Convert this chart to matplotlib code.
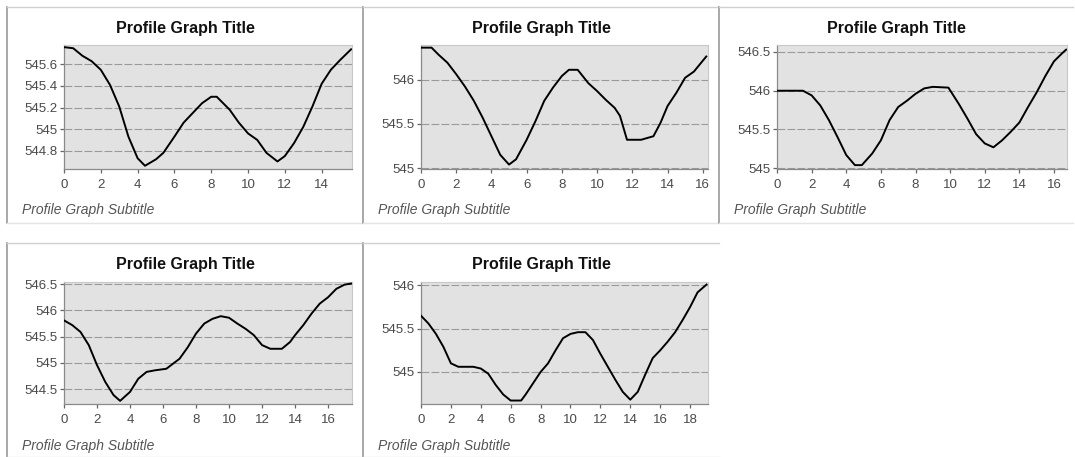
import matplotlib.pyplot as plt
from matplotlib.lines import Line2D

plt.rcParams['font.family'] = ['Liberation Sans', 'DejaVu Sans']

W, H = 1075, 457

# profile data (distance, elevation)
dist_1 = [0, 0.5, 1, 1.5, 2, 2.5, 3, 3.5, 4, 4.4, 5, 5.4, 6, 6.5, 7, 7.5, 8, 8.3,
          9, 9.5, 10, 10.5, 11, 11.6, 12, 12.5, 13, 13.5, 14, 14.5, 15, 15.6]
elev_1 = [545.76, 545.75, 545.68, 545.63, 545.55, 545.41, 545.21, 544.93, 544.73, 544.66,
          544.72, 544.78, 544.93, 545.06, 545.15, 545.24, 545.30, 545.30, 545.18, 545.06,
          544.96, 544.90, 544.78, 544.70, 544.75, 544.87, 545.02, 545.21, 545.42, 545.55,
          545.64, 545.74]

dist_2 = [0, 0.6, 1, 1.5, 2, 2.5, 3, 3.5, 4, 4.5, 5, 5.4, 6, 6.5, 7, 7.5, 8, 8.4, 8.9,
          9.5, 10, 10.5, 11, 11.3, 11.7, 12.5, 13.2, 13.6, 14, 14.5, 15, 15.5, 16.2]
elev_2 = [546.36, 546.36, 546.28, 546.19, 546.06, 545.92, 545.76, 545.57, 545.36, 545.15,
          545.04, 545.10, 545.32, 545.53, 545.76, 545.91, 546.04, 546.11, 546.11, 545.96,
          545.87, 545.77, 545.68, 545.59, 545.32, 545.32, 545.36, 545.51, 545.70, 545.85,
          546.02, 546.09, 546.26]

dist_3 = [0, 1.5, 2, 2.5, 3, 3.5, 4, 4.5, 4.9, 5.5, 6, 6.5, 7, 7.5, 8, 8.5, 9, 9.9,
          10.5, 11, 11.5, 12, 12.5, 13, 13.5, 14, 14.5, 15, 15.5, 16, 16.5, 16.7]
elev_3 = [546.0, 546.0, 545.94, 545.81, 545.62, 545.40, 545.17, 545.04, 545.04, 545.19,
          545.36, 545.62, 545.79, 545.87, 545.96, 546.03, 546.05, 546.04, 545.83, 545.64,
          545.44, 545.32, 545.27, 545.36, 545.47, 545.59, 545.79, 545.98, 546.19, 546.38,
          546.49, 546.53]

dist_4 = [0, 0.5, 1, 1.5, 2, 2.5, 3, 3.4, 4, 4.5, 5, 5.5, 6.2, 7, 7.5, 8, 8.5, 9, 9.5,
          10, 10.5, 11, 11.5, 12, 12.5, 13.2, 13.7, 14, 14.5, 15, 15.5, 16, 16.5, 17, 17.4]
elev_4 = [545.81, 545.72, 545.59, 545.34, 544.96, 544.64, 544.39, 544.28, 544.45, 544.70,
          544.83, 544.86, 544.89, 545.08, 545.30, 545.56, 545.75, 545.84, 545.89, 545.86,
          545.75, 545.65, 545.53, 545.34, 545.27, 545.27, 545.40, 545.53, 545.72, 545.94,
          546.13, 546.25, 546.41, 546.49, 546.51]

dist_5 = [0, 0.5, 1, 1.5, 2, 2.5, 3.5, 4, 4.5, 5, 5.5, 6, 6.7, 7, 7.5, 8, 8.5, 9, 9.5,
          10, 10.5, 11, 11.5, 12, 12.5, 13, 13.5, 14, 14.5, 15, 15.5, 16, 16.5, 17, 17.5,
          18, 18.5, 19.1]
elev_5 = [545.65, 545.56, 545.44, 545.29, 545.10, 545.06, 545.06, 545.04, 544.98, 544.85,
          544.74, 544.67, 544.67, 544.74, 544.87, 545.00, 545.10, 545.25, 545.39, 545.44,
          545.46, 545.46, 545.37, 545.21, 545.06, 544.91, 544.77, 544.68, 544.77, 544.97,
          545.16, 545.25, 545.35, 545.46, 545.60, 545.75, 545.92, 546.01]

yticks_1 = [544.8, 545, 545.2, 545.4, 545.6]
yticks_2 = [545, 545.5, 546]
yticks_3 = [545, 545.5, 546, 546.5]
yticks_4 = [544.5, 545, 545.5, 546, 546.5]
yticks_5 = [545, 545.5, 546]

xticks_1 = list(range(0, 15, 2))
xticks_2 = list(range(0, 17, 2))
xticks_3 = list(range(0, 17, 2))
xticks_4 = list(range(0, 17, 2))
xticks_5 = list(range(0, 19, 2))

title = 'Profile Graph Title'
subtitle = 'Profile Graph Subtitle'

# panel layout in pixels: frame box, plot box, y limits, x limit
panels = [
    (dist_1, elev_1, xticks_1, yticks_1, (7, 7, 363, 223), (64, 45, 352, 169), (544.63, 545.78), 15.65),
    (dist_2, elev_2, xticks_2, yticks_2, (363, 7, 719, 223), (421, 45, 708, 169), (544.99, 546.39), 16.3),
    (dist_3, elev_3, xticks_3, yticks_3, (719, 7, 1073, 223), (777, 45, 1067, 169), (544.99, 546.59), 16.75),
    (dist_4, elev_4, xticks_4, yticks_4, (7, 243, 363, 457), (64, 282, 352, 404), (544.22, 546.54), 17.45),
    (dist_5, elev_5, xticks_5, yticks_5, (363, 243, 719, 457), (421, 282, 708, 404), (544.63, 546.04), 19.2),
]

fig = plt.figure(figsize=(W / 100, H / 100), dpi=100)
fig.patch.set_facecolor('white')


def fx(x):
    return x / W


def fy(y):
    return 1 - y / H


for dist, elev, xt, yt, frame, box, ylim, xmax in panels:
    fx0, fy0, fx1, fy1 = frame
    # panel frame: darker left edge, faint others
    fig.add_artist(Line2D([fx(fx0), fx(fx0)], [fy(fy0), fy(fy1)], color='#9a9a9a', lw=1.2))
    fig.add_artist(Line2D([fx(fx0), fx(fx1)], [fy(fy0), fy(fy0)], color='#d0d0d0', lw=1.0))
    fig.add_artist(Line2D([fx(fx0), fx(fx1)], [fy(fy1), fy(fy1)], color='#e4e4e4', lw=1.0))

    x0, y0, x1, y1 = box
    ax = fig.add_axes([fx(x0), fy(y1), (x1 - x0) / W, (y1 - y0) / H])
    ax.set_facecolor('#e2e2e2')
    ax.plot(dist, elev, color='black', lw=1.4, solid_joinstyle='round', zorder=3)
    ax.set_xlim(0, xmax)
    ax.set_ylim(*ylim)
    ax.set_xticks(xt)
    ax.set_yticks(yt)
    ax.set_yticklabels(['%g' % v for v in yt])
    ax.grid(axis='y', color='#9a9a9a', lw=0.8, linestyle=(0, (7, 2)))
    ax.set_axisbelow(True)
    for side in ['top', 'right']:
        ax.spines[side].set_color('#c8c8c8')
        ax.spines[side].set_linewidth(0.8)
    for side in ['left', 'bottom']:
        ax.spines[side].set_color('#8a8a8a')
        ax.spines[side].set_linewidth(0.9)
    ax.tick_params(axis='x', pad=4)
    ax.tick_params(direction='out', length=3, width=0.9, color='#666666',
                   labelsize=9.5, labelcolor='#4a4a4a')
    ax.tick_params(axis='y', pad=2)

    cx = (fx0 + fx1) / 2
    fig.text(fx(cx), fy(fy0 + 21), title, ha='center', va='center',
             fontsize=11.5, fontweight='bold', color='#111111')
    fig.text(fx(fx0 + 15), fy(fy0 + 203), subtitle, ha='left', va='center',
             fontsize=10, style='italic', color='#555555')

fig.savefig('out.png', dpi=100)
